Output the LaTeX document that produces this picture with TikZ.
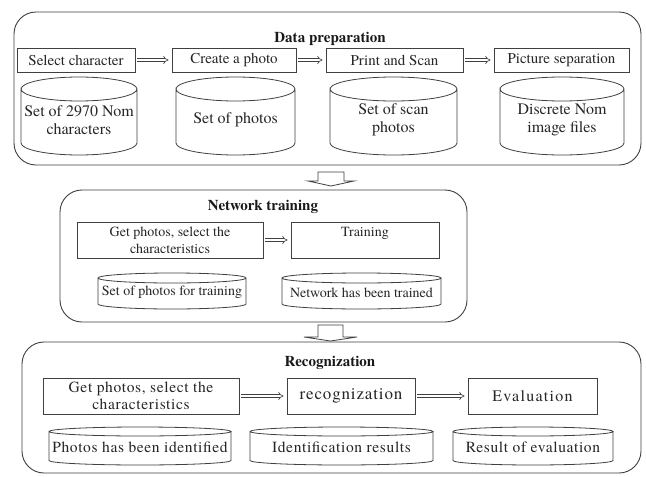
\documentclass[tikz,border=0pt]{standalone}
\usepackage{fontspec}
\setmainfont{TeX Gyre Termes}
\usetikzlibrary{arrows.meta,calc}
\definecolor{ln}{HTML}{404040}
\tikzset{
  txt/.style={font=\fontsize{15}{18}\selectfont, text=black!85, align=center, inner sep=0pt},
  ttl/.style={font=\fontsize{15}{16}\selectfont\bfseries, text=black!90, inner sep=0pt},
  procbox/.style={txt, draw=ln, line width=0.8pt},
  cylbody/.style={txt},
  dpcyl/.style={font=\fontsize{16}{18}\selectfont},
  ntfont/.style={font=\fontsize{14}{17}\selectfont},
  rcfont/.style={font=\fontsize{15.5}{17}\selectfont\addfontfeature{LetterSpace=4}},
  container/.style={draw=ln, line width=0.9pt, rounded corners=22pt, inner sep=0pt},
  dbl/.style={draw=ln, double=white, double distance=2.2pt, line width=0.6pt, -{Implies}, shorten <=2pt, shorten >=3pt},
  hollow/.style={draw=ln, line width=0.8pt, fill=white, line join=miter},
}
% box: name, x1, y1, x2, y2, options, text
\newcommand\pbox[7]{\node[procbox, #6, minimum width={#4pt-#2pt}, minimum height={#5pt-#3pt}] (#1) at ({(#2+#4)/2},{(#3+#5)/2}) {#7};}
% cylinder: name, x1, y1, x2, y2, ry, options, text
\newcommand\cylnode[8]{%
  \draw[draw=ln, line width=0.8pt]
    (#2,{#3+#6}) arc[start angle=180, end angle=-180, x radius={(#4-#2)/2*1pt}, y radius={#6*1pt}]
    -- (#2,{#5-#6}) arc[start angle=180, end angle=360, x radius={(#4-#2)/2*1pt}, y radius={#6*1pt}]
    -- (#4,{#3+#6});
  \node[cylbody, #7] (#1) at ({(#2+#4)/2},{(#3+#5)/2+#6/3}) {#8};
}
\begin{document}
\begin{tikzpicture}[x=1pt,y=-1pt]
\useasboundingbox[fill=white] (0,0) rectangle (646,477);

% ---------------- Data preparation
\node[container, minimum width=627pt, minimum height=153pt] (dp) at (327.5,88.5) {};
\node[ttl] (dpt) at (330,39) {Data preparation};
\pbox{sel}{17}{48}{135}{72}{}{Select character}
\pbox{cre}{172}{48}{296}{72}{}{Create a photo}
\pbox{prs}{326}{48}{463}{72}{}{Print and Scan}
\pbox{sep}{494}{48}{629}{72}{}{Picture separation}
\draw[dbl] (sel) -- (cre);
\draw[dbl] (cre) -- (prs);
\draw[dbl] (prs) -- (sep);
\cylnode{c1}{21}{77}{137}{155}{12}{dpcyl}{Set of 2970 Nom\\characters}
\cylnode{c2}{176}{77}{295}{155}{12}{dpcyl}{Set of photos}
\cylnode{c3}{330}{77}{457}{155}{12}{dpcyl}{Set of scan\\photos}
\cylnode{c4}{500}{77}{624}{155}{12}{dpcyl}{Discrete Nom\\image files}

% down arrow 1
\coordinate (d1) at (331,172);
\draw[hollow] (d1) ++(-13,0) -- ++(26,0) -- ++(0,9) -- ++(10,0) -- ++(-23,5) -- ++(-23,-5) -- ++(10,0) -- cycle;

% ---------------- Network training
\node[container, minimum width=407pt, minimum height=132pt] (nt) at (263.5,256) {};
\node[ttl] (ntt) at (263,207) {Network training};
\pbox{gp1}{77}{222}{263}{258}{ntfont}{Get photos, select the\\characteristics}
\node[procbox, ntfont, minimum width=148pt, minimum height=36pt, text depth=16pt] (trn) at (365,240) {Training};
\draw[dbl] (gp1) -- (trn);
\cylnode{c5}{98}{273}{246}{309}{5}{ntfont}{Set of photos for training}
\cylnode{c6}{282}{273}{441}{309}{5}{ntfont}{Network has been trained}

% down arrow 2
\coordinate (d2) at (330.5,325);
\draw[hollow] (d2) ++(-12.5,0) -- ++(25,0) -- ++(0,12) -- ++(14,0) -- ++(-26.5,4) -- ++(-26.5,-4) -- ++(14,0) -- cycle;

% ---------------- Recognization
\node[container, minimum width=619pt, minimum height=131pt] (rc) at (331.5,407.5) {};
\node[ttl] (rct) at (330,363) {Recognization};
\pbox{gp2}{43}{378}{239}{414}{rcfont}{Get photos, select the\\characteristics}
\pbox{rec}{287}{378}{415}{414}{font=\fontsize{17}{19}\selectfont\addfontfeature{LetterSpace=5}}{recognization}
\pbox{eva}{468}{378}{597}{414}{font=\fontsize{16}{18}\selectfont\addfontfeature{LetterSpace=8}}{Evaluation}
\draw[dbl] (gp2) -- (rec);
\draw[dbl] (rec) -- (eva);
\cylnode{c7}{49}{427}{231}{465}{4.5}{rcfont}{Photos has been identified}
\cylnode{c8}{250}{427}{433}{465}{4.5}{rcfont}{Identification results}
\cylnode{c9}{453}{427}{613}{465}{4.5}{rcfont}{Result of evaluation}
\end{tikzpicture}
\end{document}
